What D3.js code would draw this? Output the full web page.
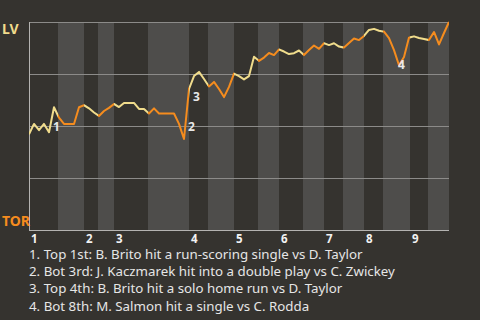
<!DOCTYPE html>
<html>
<head>
<meta charset="utf-8">
<script src="https://cdn.jsdelivr.net/npm/d3@7"></script>
<style>
  body { margin: 0; background: #35332f; }
  svg { display: block; }
</style>
</head>
<body>
<svg id="chart" width="480" height="320"></svg>
<script>
// LV win probability after each event of the game
const winProb = [
  0.46, 0.51, 0.48, 0.51, 0.47, 0.59, 0.54, 0.51, 0.51, 0.51,
  0.59, 0.60, 0.585, 0.565, 0.548, 0.572, 0.587, 0.606, 0.591, 0.611,
  0.611, 0.611, 0.582, 0.582, 0.56, 0.585, 0.56, 0.56, 0.56, 0.56,
  0.51, 0.4375, 0.678, 0.74, 0.76, 0.726, 0.69, 0.712, 0.678, 0.639,
  0.688, 0.752, 0.74, 0.724, 0.74, 0.833, 0.813, 0.829, 0.851, 0.841,
  0.868, 0.858, 0.846, 0.85, 0.863, 0.841, 0.865, 0.887, 0.871, 0.898,
  0.889, 0.898, 0.882, 0.877, 0.899, 0.921, 0.913, 0.933, 0.962, 0.967,
  0.958, 0.954, 0.923, 0.865, 0.792, 0.832, 0.925, 0.931, 0.923, 0.918,
  0.913, 0.952, 0.892, 0.947, 1.0
];

// half-inning edges, in event units (top 1st starts at 0)
const halfEdges = [0, 5.8, 11, 13.8, 17, 23.8, 32, 35.8, 41, 45.8, 50, 54.8, 59, 62.8, 67, 70.8, 76.2, 79.8, 84];

const innings = ["1", "2", "3", "4", "5", "6", "7", "8", "9"];

// key plays: event index and note
const keyEvents = [5, 31, 32, 74];
const keyNotes = [
  "1. Top 1st: B. Brito hit a run-scoring single vs D. Taylor",
  "2. Bot 3rd: J. Kaczmarek hit into a double play vs C. Zwickey",
  "3. Top 4th: B. Brito hit a solo home run vs D. Taylor",
  "4. Bot 8th: M. Salmon hit a single vs C. Rodda"
];

const teams = ["LV", "TOR"];

const colors = { top: "#f0dc8c", bottom: "#f58c1e" };
const margin = { top: 22, right: 31, bottom: 90, left: 29 };
const W = 480, H = 320;
const w = W - margin.left - margin.right;
const h = H - margin.top - margin.bottom;
const font = "'Noto Sans', sans-serif";

const svg = d3.select("#chart");

// background
svg.append("rect").attr("width", W).attr("height", H).attr("fill", "#35332f");

const x = d3.scaleLinear().domain([0, winProb.length - 1]).range([0, w]);
const y = d3.scaleLinear().domain([0, 1]).range([h, 0]);

const g = svg.append("g")
  .attr("transform", "translate(" + margin.left + "," + margin.top + ")");

// half-inning bands
const halves = d3.pairs(halfEdges).map((p, i) => ({ x0: p[0], x1: p[1], top: i % 2 === 0 }));

g.selectAll("rect.band")
  .data(halves)
  .enter()
  .append("rect")
  .attr("class", "band")
  .attr("x", d => x(d.x0))
  .attr("width", d => x(d.x1) - x(d.x0))
  .attr("y", 0)
  .attr("height", h)
  .attr("fill", d => d.top ? "#35332f" : "#4e4d4b");

// horizontal grid
g.selectAll("line.grid")
  .data([0.25, 0.5, 0.75, 1])
  .enter()
  .append("line")
  .attr("x1", 0)
  .attr("x2", w)
  .attr("y1", d => Math.round(y(d)) + 0.5)
  .attr("y2", d => Math.round(y(d)) + 0.5)
  .attr("stroke", "#8c8b89")
  .attr("stroke-width", 1);

// axes lines
g.append("line")
  .attr("x1", 0.5).attr("x2", 0.5)
  .attr("y1", 0).attr("y2", h)
  .attr("stroke", "#b4b3b1");
g.append("line")
  .attr("x1", 0).attr("x2", w)
  .attr("y1", h + 0.5).attr("y2", h + 0.5)
  .attr("stroke", "#b4b3b1");

// clip paths so the line takes the batting team's colour in each half
const defs = svg.append("defs");
halves.forEach((d, i) => {
  defs.append("clipPath")
    .attr("id", "half" + i)
    .append("rect")
    .attr("x", x(d.x0))
    .attr("width", x(d.x1) - x(d.x0))
    .attr("y", -5)
    .attr("height", h + 10);
});

const line = d3.line()
  .x((d, i) => x(i))
  .y(d => y(d));

halves.forEach((d, i) => {
  g.append("path")
    .datum(winProb)
    .attr("clip-path", "url(#half" + i + ")")
    .attr("d", line)
    .attr("fill", "none")
    .attr("stroke", d.top ? colors.top : colors.bottom)
    .attr("stroke-width", 2)
    .attr("stroke-linejoin", "round");
});

// event markers
const markOffsets = [[-1, 24], [4, -8], [4, 12], [-1, 4]];
g.selectAll("text.mark")
  .data(keyEvents)
  .enter()
  .append("text")
  .attr("class", "mark")
  .attr("x", (d, i) => x(d) + markOffsets[i][0])
  .attr("y", (d, i) => y(winProb[d]) + markOffsets[i][1])
  .attr("fill", "#e8e8e8")
  .attr("font-family", font)
  .attr("font-weight", "bold")
  .attr("font-size", 12)
  .text((d, i) => i + 1);

// team labels
svg.append("text")
  .attr("x", 2).attr("y", margin.top + 12)
  .attr("fill", colors.top)
  .attr("font-family", font)
  .attr("font-weight", "bold")
  .attr("font-size", 14)
  .text(teams[0]);
svg.append("text")
  .attr("x", 2).attr("y", margin.top + h - 4)
  .attr("fill", colors.bottom)
  .attr("font-family", font)
  .attr("font-weight", "bold")
  .attr("font-size", 14)
  .text(teams[1]);

// inning labels at the start of each top half
g.selectAll("text.inning")
  .data(innings)
  .enter()
  .append("text")
  .attr("class", "inning")
  .attr("x", (d, i) => x(halfEdges[i * 2]) + 2)
  .attr("y", h + 12.5)
  .attr("fill", "#f2f2f2")
  .attr("font-family", font)
  .attr("font-weight", "bold")
  .attr("font-size", 11.5)
  .text(d => d);

// notes
svg.selectAll("text.note")
  .data(keyNotes)
  .enter()
  .append("text")
  .attr("class", "note")
  .attr("x", 29)
  .attr("y", (d, i) => 258.5 + i * 17.4)
  .attr("fill", "#e6e6e6")
  .attr("font-family", font)
  .attr("font-size", 13.3)
  .text(d => d);
</script>
</body>
</html>
